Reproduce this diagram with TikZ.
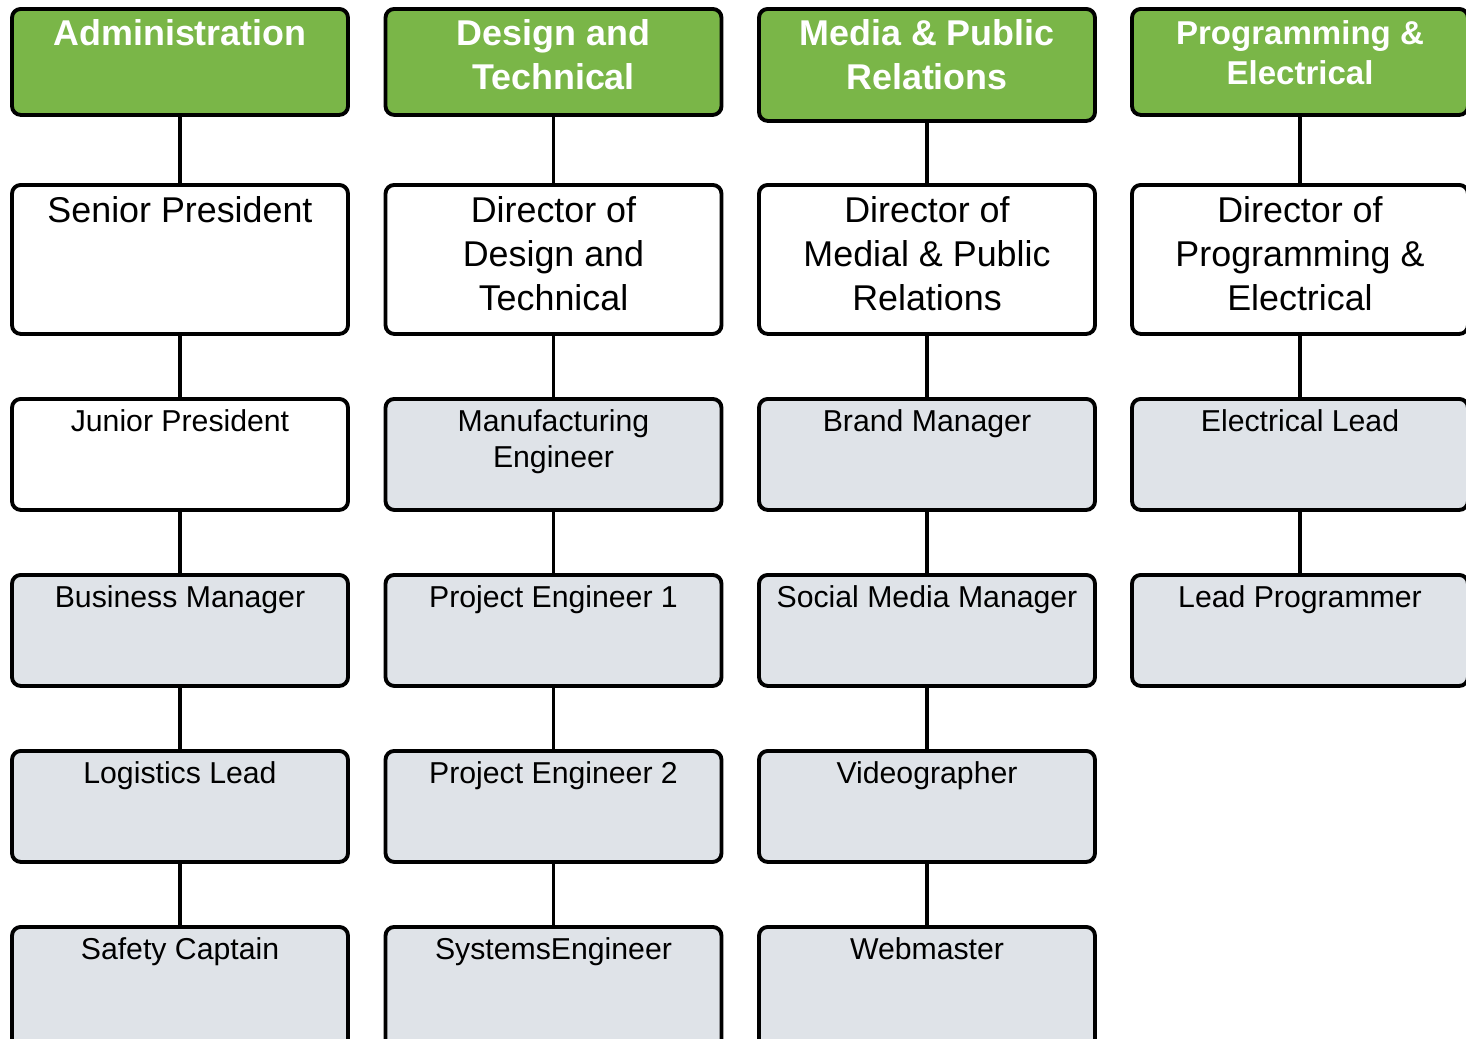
\documentclass[tikz,border=0pt]{standalone}
\usepackage{fontspec}
\setmainfont{Liberation Sans}
\definecolor{headgreen}{HTML}{7AB648}
\definecolor{rolegray}{HTML}{DFE3E8}

\tikzset{
    box/.style={draw, line width=2.2pt, rounded corners=5pt,
        minimum width=6.72cm, anchor=north, inner sep=0pt},
    headlabel/.style={anchor=north, yshift=-0.24cm, inner sep=0pt, align=center,
        text=white, font=\fontsize{20.4}{25}\selectfont\bfseries},
    head/.style={box, fill=headgreen, minimum height=2.12cm,
        label={[headlabel]north:{#1}}},
    headsmall/.style={box, fill=headgreen, minimum height=2.12cm,
        label={[headlabel, yshift=-0.03cm,
            font=\fontsize{18.8}{22.8}\selectfont\bfseries]north:{#1}}},
    chief/.style={box, fill=white, minimum height=2.98cm,
        label={[anchor=north, yshift=-0.26cm, inner sep=0pt, align=center,
            font=\fontsize{20.4}{25}\selectfont]north:{#1}}},
    role/.style={box, fill=rolegray, minimum height=2.22cm,
        label={[anchor=north, yshift=-0.24cm, inner sep=0pt, align=center,
            font=\fontsize{17.2}{20.6}\selectfont]north:{#1}}},
    link/.style={draw, line width=2pt}
}

\begin{document}
\begin{tikzpicture}

        \useasboundingbox (0,0) rectangle (29.32,-20.78);
        \clip (0,0) rectangle (29.32,-20.78);

        % Administration
        \node [head={Administration}] (adm) at (3.6,-0.14){};
        \node [chief={Senior President}] (adm1) at (3.6,-3.66){};
        \node [role={Junior President},
            fill=white] (adm2) at (3.6,-7.94){};
        \node [role={Business Manager}] (adm3) at (3.6,-11.46){};
        \node [role={Logistics Lead}] (adm4) at (3.6,-14.98){};
        \node [role={Safety Captain},
            minimum height=2.5cm] (adm5) at (3.6,-18.50){};

        % Design and Technical
        \node [head={Design and\\Technical}] (des) at (11.07,-0.14){};
        \node [chief={Director of\\Design and\\Technical}] (des1) at (11.07,-3.66){};
        \node [role={Manufacturing\\Engineer}] (des2) at (11.07,-7.94){};
        \node [role={Project Engineer 1}] (des3) at (11.07,-11.46){};
        \node [role={Project Engineer 2}] (des4) at (11.07,-14.98){};
        \node [role={SystemsEngineer},
            minimum height=2.5cm] (des5) at (11.07,-18.50){};

        % Media & Public Relations
        \node [head={Media \& Public\\Relations},
            minimum height=2.24cm] (med) at (18.54,-0.14){};
        \node [chief={Director of\\Medial \& Public\\Relations}] (med1) at (18.54,-3.66){};
        \node [role={Brand Manager}] (med2) at (18.54,-7.94){};
        \node [role={Social Media Manager}] (med3) at (18.54,-11.46){};
        \node [role={Videographer}] (med4) at (18.54,-14.98){};
        \node [role={Webmaster},
            minimum height=2.5cm] (med5) at (18.54,-18.50){};

        % Programming & Electrical
        \node [headsmall={Programming \&\\Electrical}] (prg) at (26.0,-0.14){};
        \node [chief={Director of\\Programming \&\\Electrical}] (prg1) at (26.0,-3.66){};
        \node [role={Electrical Lead}] (prg2) at (26.0,-7.94){};
        \node [role={Lead Programmer}] (prg3) at (26.0,-11.46){};

        % Connectors
        \draw [link] (adm) -- (adm1) -- (adm2) -- (adm3) -- (adm4) -- (adm5);
        \draw [link] (des) -- (des1) -- (des2) -- (des3) -- (des4) -- (des5);
        \draw [link] (med) -- (med1) -- (med2) -- (med3) -- (med4) -- (med5);
        \draw [link] (prg) -- (prg1) -- (prg2) -- (prg3);

\end{tikzpicture}
\end{document}
